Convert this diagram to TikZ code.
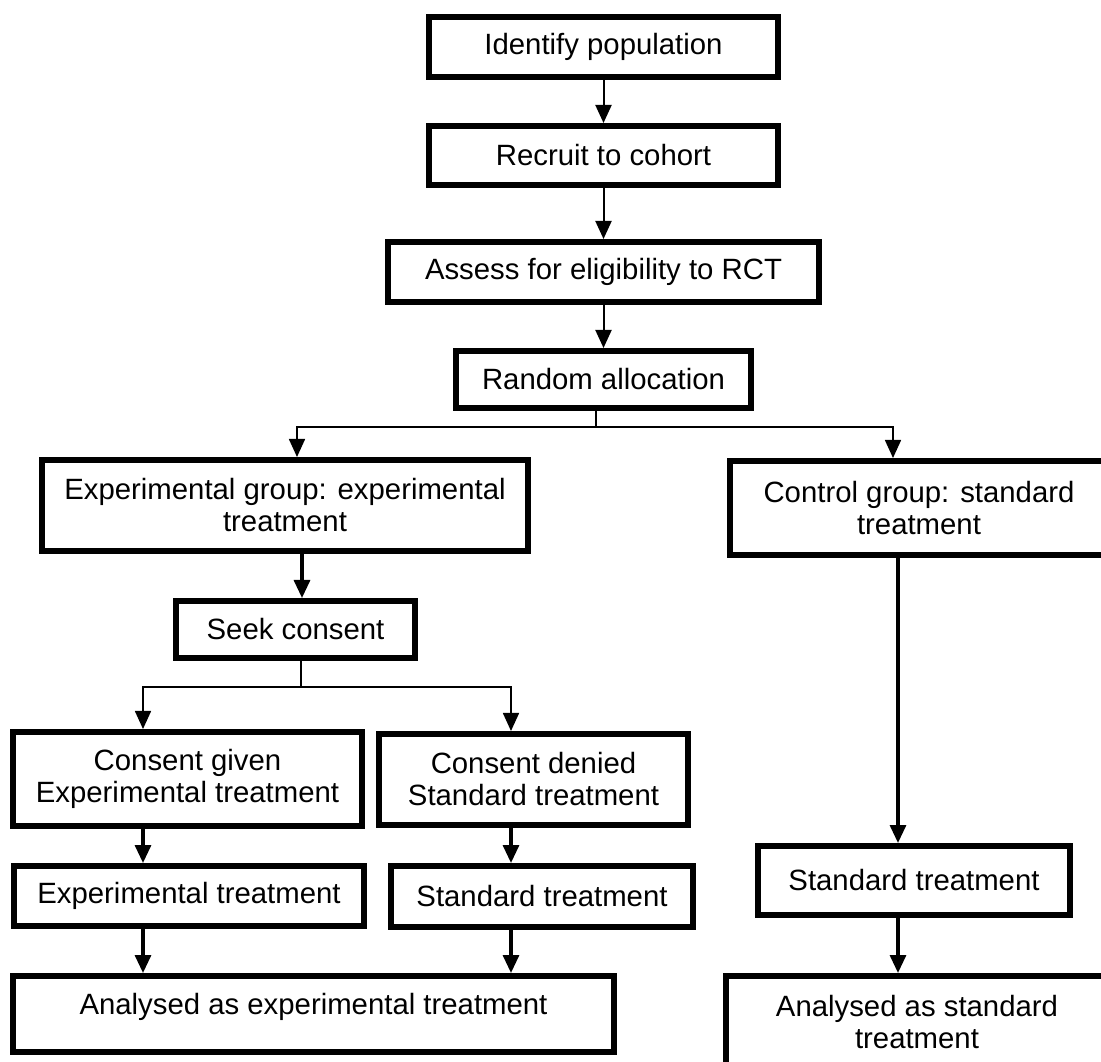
\documentclass[tikz,border=0pt]{standalone}
\usepackage{fontspec}
\setmainfont{Liberation Sans}
\usetikzlibrary{arrows.meta}
\tikzset{
  bx/.style={draw, line width=4.5pt, inner sep=0pt, align=center, fill=white,
    font=\fontsize{22}{24}\selectfont},
  tip/.style={-{Triangle[width=12pt,length=13.5pt]}},
  arr/.style={tip, line width=1.5pt},
  arrk/.style={tip, line width=2.4pt},
  brl/.style={tip, line width=1.2pt},
}
\newcommand\boxnode[7][]{\node[bx,#1,minimum width={(#5-6)*0.75pt},minimum height={(#6-6)*0.75pt}] (#2) at (#3,#4) {#7};}
\begin{document}
\begin{tikzpicture}[x=0.75pt,y=-0.75pt]
\useasboundingbox (0,0) rectangle (1101,1062);
\clip (0,0) rectangle (1101,1062);
% boxes
\boxnode{idp}{603.5}{47}{355}{66}{Identify population}
\boxnode{rec}{603.5}{155.5}{355}{65}{Recruit to cohort}
\boxnode{ass}{603.5}{272}{437}{66}{Assess for eligibility to RCT}
\boxnode{ran}{603.5}{379.5}{301}{63}{Random allocation}
\boxnode{exp}{285}{505.5}{492}{97}{Experimental group: experimental\\treatment}
\boxnode{ctl}{919}{508}{384}{100}{Control group: standard\\treatment}
\boxnode{seek}{295.5}{629.5}{245}{63}{Seek consent}
\boxnode{cg}{187.5}{779}{355}{100}{Consent given\\Experimental treatment}
\boxnode{cd}{533.5}{779.5}{315}{97}{Consent denied\\Standard treatment}
\boxnode{et}{189}{896}{356}{66}{Experimental treatment}
\boxnode{st}{542}{896.5}{308}{67}{Standard treatment}
\boxnode[text height=0pt,text depth=0pt]{ae}{313.5}{1014}{607}{82}{Analysed as experimental treatment}
\boxnode{sst}{914}{880.5}{318}{75}{Standard treatment}
\boxnode{as}{917}{1022}{388}{98}{Analysed as standard\\treatment}
% helper coordinates
\coordinate (b1) at (596,427);
\coordinate (bL) at (297,427);
\coordinate (bR) at (893,427);
\coordinate (xs) at (302,0);
\coordinate (b2) at (301,687);
\coordinate (cL) at (143,687);
\coordinate (cR) at (511,687);
\coordinate (xr) at (898,0);
% connectors
\draw[arr] (idp) -- (rec);
\draw[arr] (rec) -- (ass);
\draw[arr] (ass) -- (ran);
\draw[brl] (ran.south -| b1) -- (b1) -| (exp.north -| bL);
\draw[brl] (b1) -| (ctl.north -| bR);
\draw[arrk] (exp.south -| xs) -- (seek.north -| xs);
\draw[brl] (seek.south -| b2) -- (b2) -| (cg.north -| cL);
\draw[brl] (b2) -| (cd.north -| cR);
\draw[arrk] (cg.south -| cL) -- (et.north -| cL);
\draw[arrk] (cd.south -| cR) -- (st.north -| cR);
\draw[arrk] (et.south -| cL) -- (ae.north -| cL);
\draw[arrk] (st.south -| cR) -- (ae.north -| cR);
\draw[arrk] (ctl.south -| xr) -- (sst.north -| xr);
\draw[arrk] (sst.south -| xr) -- (as.north -| xr);
\end{tikzpicture}
\end{document}
